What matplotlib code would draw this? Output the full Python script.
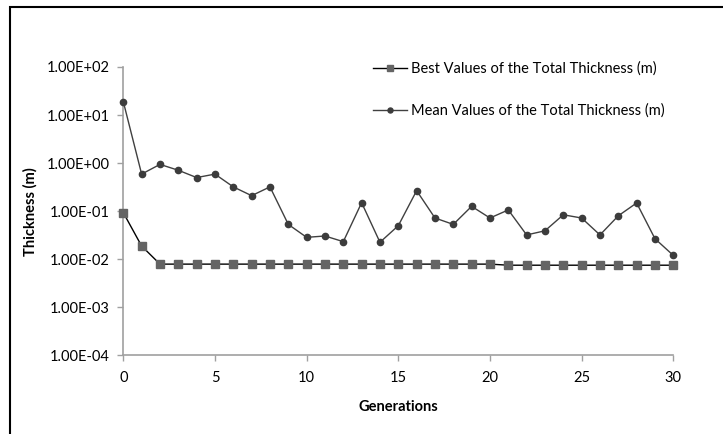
import matplotlib.pyplot as plt
from matplotlib.patches import Rectangle

# %% Data
generations = list(range(31))
best_values = [0.093, 0.0188] + [0.0079] * 19 + [0.0075] * 10
mean_values = [
    19.0, 0.59, 0.94, 0.71, 0.50, 0.59, 0.32, 0.21, 0.32, 0.053,
    0.0285, 0.0304, 0.0232, 0.15, 0.0225, 0.0498, 0.267, 0.072, 0.053, 0.126,
    0.072, 0.106, 0.032, 0.039, 0.084, 0.072, 0.032, 0.080, 0.148, 0.0267,
    0.012,
]
y_ticks = [1e-4, 1e-3, 1e-2, 1e-1, 1e0, 1e1, 1e2]
y_tick_labels = ["1.00E-04", "1.00E-03", "1.00E-02", "1.00E-01",
                 "1.00E+00", "1.00E+01", "1.00E+02"]
x_ticks = [0, 5, 10, 15, 20, 25, 30]

# %% Plot
plt.rcParams["font.family"] = ["Lato", "DejaVu Sans"]
W, H = 723, 434
fig = plt.figure(figsize=(W / 100, H / 100), dpi=100)

# chart-area border (cropped at right and bottom)
fig.patches.append(Rectangle((10 / W, -0.1), 1.2, 1 - 7 / H + 0.1,
                             transform=fig.transFigure, fill=False,
                             edgecolor="black", linewidth=1.5))

ax = fig.add_axes([123.3 / W, 1 - 355.3 / H, 550 / W, 288.3 / H])
ax.set_yscale("log")

ax.plot(generations, best_values, color="black", linewidth=1.0,
        marker="s", markersize=6, markerfacecolor="#646464",
        markeredgecolor="#646464", label="Best Values of the Total Thickness (m)",
        zorder=3)
ax.plot(generations, mean_values, color="#404040", linewidth=1.0,
        marker="o", markersize=4.5, markerfacecolor="#3c3c3c",
        markeredgecolor="#3c3c3c", label="Mean Values of the Total Thickness (m)",
        zorder=4)

ax.set_xlim(0, 30)
ax.set_ylim(1e-4, 1e2)
ax.set_xticks(x_ticks)
ax.set_yticks(y_ticks)
ax.set_yticklabels(y_tick_labels)
ax.minorticks_off()
ax.tick_params(axis="both", labelsize=10.5, color="#a0a0a0", length=4,
               direction="out", width=1)
ax.tick_params(axis="x", pad=7)
ax.tick_params(axis="y", pad=6)
for s in ["top", "right"]:
    ax.spines[s].set_visible(False)
for s in ["left", "bottom"]:
    ax.spines[s].set_color("#a0a0a0")
    ax.spines[s].set_linewidth(1.2)
for line in [*ax.get_lines()]:
    line.set_clip_on(False)

ax.set_xlabel("Generations", fontsize=10.5, fontweight="bold", labelpad=11)
ax.set_ylabel("Thickness (m)", fontsize=10.5, fontweight="bold", labelpad=6)

ax.legend(loc="upper left", bbox_to_anchor=(0.431, 1.065), frameon=False,
          fontsize=10.5, handlelength=2.3, handletextpad=0.3, labelspacing=1.9,
          markerscale=0.8)

fig.savefig("out.png", dpi=100)
